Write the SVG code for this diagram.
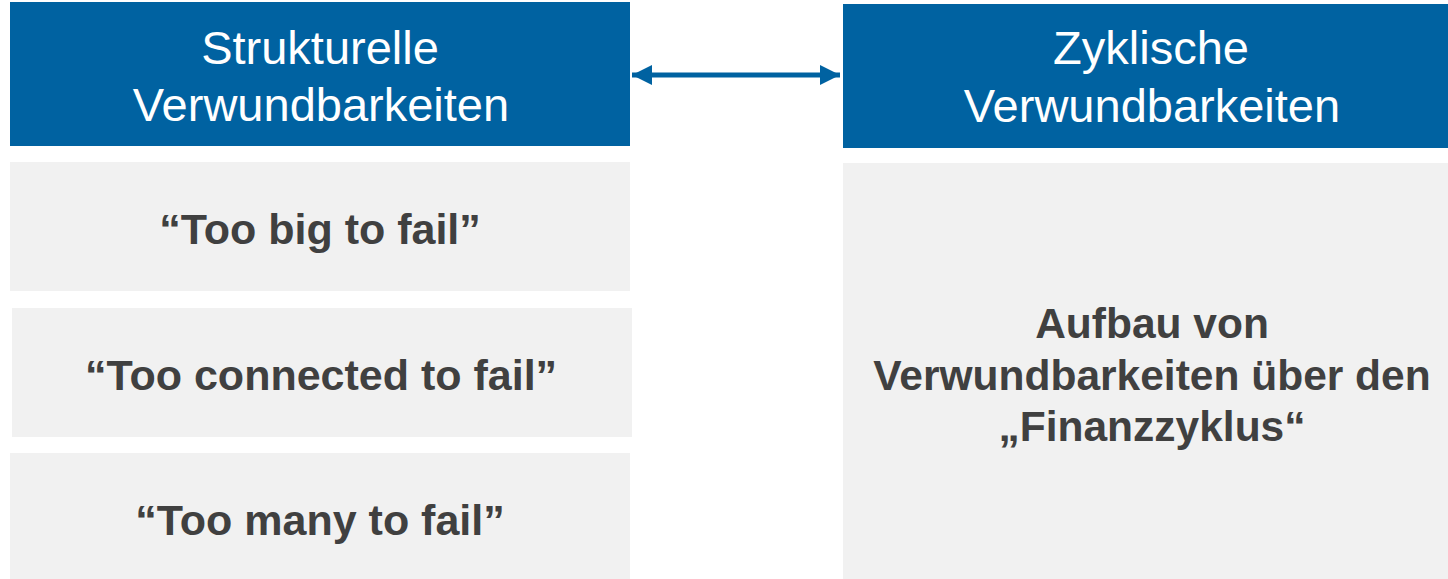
<svg xmlns="http://www.w3.org/2000/svg" width="1448" height="579" viewBox="0 0 1448 579">
<style>
.hdr{fill:#0062a1}
.box{fill:#f1f1f1}
.ht{font-family:"Liberation Sans",Arial,sans-serif;font-size:47px;fill:#ffffff;text-anchor:middle}
.bt{font-family:"Liberation Sans",Arial,sans-serif;font-size:43px;font-weight:bold;fill:#404040;text-anchor:middle}
.rt{font-family:"Liberation Sans",Arial,sans-serif;font-size:42.5px;font-weight:bold;fill:#404040;text-anchor:middle}
</style>
<defs>
<marker id="ah" viewBox="0 0 10 10" refX="10" refY="5" markerWidth="4" markerHeight="4" markerUnits="strokeWidth" orient="auto-start-reverse">
<path d="M0,0 L10,5 L0,10 Z" fill="#0062a1"/>
</marker>
</defs>
<rect width="1448" height="579" fill="#ffffff"/>
<g id="node-strukturelle">
<rect class="hdr" x="10" y="2" width="620" height="144"/>
<text class="ht" x="320" y="64">Strukturelle</text>
<text class="ht" x="321" y="121">Verwundbarkeiten</text>
</g>
<g id="node-zyklische">
<rect class="hdr" x="843" y="4" width="605" height="144"/>
<text class="ht" x="1151" y="64">Zyklische</text>
<text class="ht" x="1152" y="122">Verwundbarkeiten</text>
</g>
<g id="node-big">
<rect class="box" x="10" y="162" width="620" height="129"/>
<text class="bt" x="320" y="244">“Too big to fail”</text>
</g>
<g id="node-connected">
<rect class="box" x="12" y="308" width="620" height="129"/>
<text class="bt" x="321" y="390">“Too connected to fail”</text>
</g>
<g id="node-many">
<rect class="box" x="10" y="453" width="620" height="126"/>
<text class="bt" x="320" y="535">“Too many to fail”</text>
</g>
<g id="node-aufbau">
<rect class="box" x="843" y="163" width="605" height="416"/>
<text class="rt" x="1152" y="338">Aufbau von</text>
<text class="rt" x="1152" y="390">Verwundbarkeiten über den</text>
<text class="rt" x="1152" y="441">„Finanzzyklus“</text>
</g>
<g id="connectors">
<line x1="632" y1="75" x2="840" y2="75" stroke="#0062a1" stroke-width="5" marker-start="url(#ah)" marker-end="url(#ah)"/>
</g>
</svg>
